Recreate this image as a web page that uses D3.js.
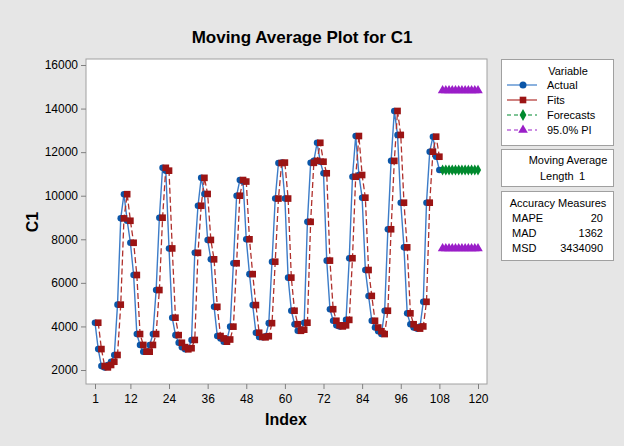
<!DOCTYPE html>
<html>
<head>
<meta charset="utf-8">
<script src="https://cdn.jsdelivr.net/npm/d3@7"></script>
<style>
  body { margin: 0; background: #e6e6e6; }
  text { font-family: "Liberation Sans", Arial, sans-serif; fill: #000; }
</style>
</head>
<body>
<div class="chart"></div>
<script>
// Moving average plot (length 1) for C1

// Actual values, index 1..108
var actual = [
  4170, 2960, 2180, 2120, 2230, 2380, 2690, 5000, 8960, 10070, 8850, 7840,
  6360, 3650, 3150, 2840, 2840, 3150, 3650, 5670, 8990, 11280, 11150, 7580,
  4400, 3600, 3250, 3050, 2950, 3000, 3380, 7380, 9540, 10820, 10080, 7970,
  7080, 4900, 3560, 3450, 3300, 3400, 3990, 6900, 10000, 10720, 10650, 8000,
  6400, 4980, 3710, 3520, 3500, 3550, 4150, 6970, 9870, 11500, 11520, 9870,
  6240, 4720, 4100, 3800, 3850, 4170, 8800, 11510, 11600, 12430, 11560, 11030,
  7020, 4790, 4260, 4050, 4000, 4050, 4300, 7130, 10870, 12740, 10950, 9910,
  6590, 5400, 4260, 3950, 3780, 3650, 4720, 8460, 11600, 13890, 12790, 9680,
  7630, 4600, 4100, 3950, 3900, 4000, 5130, 9680, 12020, 12710, 11790, 11180
];

// Fits, index 2..108 (moving average of length 1)
var fits = [
  4170, 2960, 2180, 2120, 2230, 2380, 2690, 5000, 8960, 10070, 8850,
  7840, 6360, 3650, 3150, 2840, 2840, 3150, 3650, 5670, 8990, 11280, 11150,
  7580, 4400, 3600, 3250, 3050, 2950, 3000, 3380, 7380, 9540, 10820, 10080,
  7970, 7080, 4900, 3560, 3450, 3300, 3400, 3990, 6900, 10000, 10720, 10650,
  8000, 6400, 4980, 3710, 3520, 3500, 3550, 4150, 6970, 9870, 11500, 11520,
  9870, 6240, 4720, 4100, 3800, 3850, 4170, 8800, 11510, 11600, 12430, 11560,
  11030, 7020, 4790, 4260, 4050, 4000, 4050, 4300, 7130, 10870, 12740, 10950,
  9910, 6590, 5400, 4260, 3950, 3780, 3650, 4720, 8460, 11600, 13890, 12790,
  9680, 7630, 4600, 4100, 3950, 3900, 4000, 5130, 9680, 12020, 12710, 11790
];

// Forecasts and 95% prediction interval, index 109..120
var forecasts = [11180, 11180, 11180, 11180, 11180, 11180, 11180, 11180, 11180, 11180, 11180, 11180];
var upperPI = [14810, 14810, 14810, 14810, 14810, 14810, 14810, 14810, 14810, 14810, 14810, 14810];
var lowerPI = [7550, 7550, 7550, 7550, 7550, 7550, 7550, 7550, 7550, 7550, 7550, 7550];

var xTicks = [1, 12, 24, 36, 48, 60, 72, 84, 96, 108, 120];
var yTicks = [2000, 4000, 6000, 8000, 10000, 12000, 14000, 16000];

var measureNames = ["MAPE", "MAD", "MSD"];
var measureValues = ["20", "1362", "3434090"];

var svgWidth = 624;
var svgHeight = 446;

// plot frame
var frame = { left: 86, right: 487, top: 59, bottom: 384 };

var svg = d3.select(".chart")
    .append("svg")
    .attr("width", svgWidth)
    .attr("height", svgHeight);

svg.append("rect")
    .attr("x", 0).attr("y", 0)
    .attr("width", svgWidth).attr("height", svgHeight)
    .attr("fill", "#e6e6e6");

svg.append("rect")
    .attr("x", frame.left).attr("y", frame.top)
    .attr("width", frame.right - frame.left)
    .attr("height", frame.bottom - frame.top)
    .attr("fill", "#fff")
    .attr("stroke", "#a0a0a0");

var xScale = d3.scaleLinear().domain([1, 120]).range([95, 478]);
var yScale = d3.scaleLinear().domain([2000, 16000]).range([370, 65]);

// axes
var bottomAxis = d3.axisBottom(xScale).tickValues(xTicks).tickFormat(d3.format("d"))
    .tickSize(5).tickSizeOuter(0);
var leftAxis = d3.axisLeft(yScale).tickValues(yTicks).tickFormat(d3.format("d"))
    .tickSize(5).tickSizeOuter(0);

var xAxis = svg.append("g")
    .attr("transform", `translate(0, ${frame.bottom})`)
    .call(bottomAxis);
var yAxis = svg.append("g")
    .attr("transform", `translate(${frame.left}, 0)`)
    .call(leftAxis);

[xAxis, yAxis].forEach(function (ax) {
    ax.select(".domain").remove();
    ax.selectAll("line").attr("stroke", "#808080");
    ax.selectAll("text")
        .attr("font-size", "12px")
        .attr("font-family", "'Liberation Sans', Arial, sans-serif")
        .attr("fill", "#000");
});
xAxis.selectAll("text").attr("dy", "0.95em");

// data points
var actualPts = actual.map((v, i) => ({ x: i + 1, y: v }));
var fitPts = fits.map((v, i) => ({ x: i + 2, y: v }));
var fcPts = forecasts.map((v, i) => ({ x: i + 109, y: v }));
var upPts = upperPI.map((v, i) => ({ x: i + 109, y: v }));
var loPts = lowerPI.map((v, i) => ({ x: i + 109, y: v }));

var line = d3.line().x(d => xScale(d.x)).y(d => yScale(d.y));

var blue = "#0a56a8", blueLine = "#3c7cc8";
var red = "#9b1414", redLine = "#b0302c";
var green = "#008a2e";
var purple = "#9a1ec8";

svg.append("path").datum(actualPts)
    .attr("d", line).attr("fill", "none")
    .attr("stroke", blueLine).attr("stroke-width", 1.4);

svg.append("path").datum(fitPts)
    .attr("d", line).attr("fill", "none")
    .attr("stroke", redLine).attr("stroke-width", 1.3)
    .attr("stroke-dasharray", "6,3");

svg.selectAll(".act").data(actualPts).enter()
    .append("circle")
    .attr("cx", d => xScale(d.x)).attr("cy", d => yScale(d.y))
    .attr("r", 3.3).attr("fill", blue);

var square = d3.symbol().type(d3.symbolSquare).size(44);
svg.selectAll(".fit").data(fitPts).enter()
    .append("path")
    .attr("d", square)
    .attr("transform", d => `translate(${xScale(d.x)}, ${yScale(d.y)})`)
    .attr("fill", red);

// forecasts
svg.append("path").datum(fcPts)
    .attr("d", line).attr("fill", "none")
    .attr("stroke", green).attr("stroke-width", 1.2)
    .attr("stroke-dasharray", "5,3");
var diamond = d3.symbol().type(d3.symbolDiamond).size(34);
svg.selectAll(".fc").data(fcPts).enter()
    .append("path")
    .attr("d", diamond)
    .attr("transform", d => `translate(${xScale(d.x)}, ${yScale(d.y)})`)
    .attr("fill", green);

// prediction interval
var triangle = d3.symbol().type(d3.symbolTriangle).size(40);
[upPts, loPts].forEach(function (pts) {
    svg.append("path").datum(pts)
        .attr("d", line).attr("fill", "none")
        .attr("stroke", purple).attr("stroke-width", 1.2)
        .attr("stroke-dasharray", "5,3");
    svg.append("g").selectAll("path").data(pts).enter()
        .append("path")
        .attr("d", triangle)
        .attr("transform", d => `translate(${xScale(d.x)}, ${yScale(d.y) - 0.5})`)
        .attr("fill", purple);
});

// titles
svg.append("text")
    .attr("x", 302).attr("y", 43)
    .attr("text-anchor", "middle")
    .attr("font-size", "17px").attr("font-weight", "bold")
    .text("Moving Average Plot for C1");

svg.append("text")
    .attr("x", 286).attr("y", 425)
    .attr("text-anchor", "middle")
    .attr("font-size", "16px").attr("font-weight", "bold")
    .text("Index");

svg.append("text")
    .attr("transform", "translate(38, 222) rotate(-90)")
    .attr("text-anchor", "middle")
    .attr("font-size", "16px").attr("font-weight", "bold")
    .text("C1");

// legend boxes
function box(y0, y1) {
    svg.append("rect")
        .attr("x", 501.5).attr("y", y0 + 0.5)
        .attr("width", 112).attr("height", y1 - y0)
        .attr("fill", "#fff").attr("stroke", "#a0a0a0");
}
box(59, 145);
box(149, 186);
box(191, 260);

var lg = svg.append("g").attr("font-size", "11px");
lg.append("text").attr("x", 568).attr("y", 75).attr("text-anchor", "middle")
    .attr("font-size", "11px").text("Variable");

var legendItems = [
    { name: "Actual", color: blueLine, mark: "circle", dash: null },
    { name: "Fits", color: redLine, mark: "square", dash: null },
    { name: "Forecasts", color: green, mark: "diamond", dash: "4,3" },
    { name: "95.0% PI", color: purple, mark: "triangle", dash: "4,3" }
];
legendItems.forEach(function (item, i) {
    var y = 89 + i * 15;
    lg.append("line")
        .attr("x1", 507).attr("x2", 537).attr("y1", y - 4).attr("y2", y - 4)
        .attr("stroke", item.color).attr("stroke-width", 1.2)
        .attr("stroke-dasharray", item.dash);
    var markColor = [blue, red, green, purple][i];
    if (item.mark == "circle") {
        lg.append("circle").attr("cx", 523).attr("cy", y - 4).attr("r", 3.5).attr("fill", markColor);
    } else {
        var sym = { square: d3.symbolSquare, diamond: d3.symbolDiamond, triangle: d3.symbolTriangle }[item.mark];
        lg.append("path")
            .attr("d", d3.symbol().type(sym).size(item.mark == "square" ? 44 : 40))
            .attr("transform", `translate(523, ${y - 4})`)
            .attr("fill", markColor);
    }
    lg.append("text").attr("x", 547).attr("y", y)
        .attr("font-size", "11px").text(item.name);
});

lg.append("text").attr("x", 568).attr("y", 164).attr("text-anchor", "middle")
    .attr("font-size", "11px").text("Moving Average");
lg.append("text").attr("x", 540).attr("y", 180)
    .attr("font-size", "11px").text("Length");
lg.append("text").attr("x", 585).attr("y", 180).attr("text-anchor", "end")
    .attr("font-size", "11px").text("1");

lg.append("text").attr("x", 558).attr("y", 207).attr("text-anchor", "middle")
    .attr("font-size", "11px").text("Accuracy Measures");
measureNames.forEach(function (name, i) {
    var y = 222 + i * 15;
    lg.append("text").attr("x", 512).attr("y", y).attr("font-size", "11px").text(name);
    lg.append("text").attr("x", 603).attr("y", y).attr("text-anchor", "end")
        .attr("font-size", "11px").text(measureValues[i]);
});
</script>
</body>
</html>
